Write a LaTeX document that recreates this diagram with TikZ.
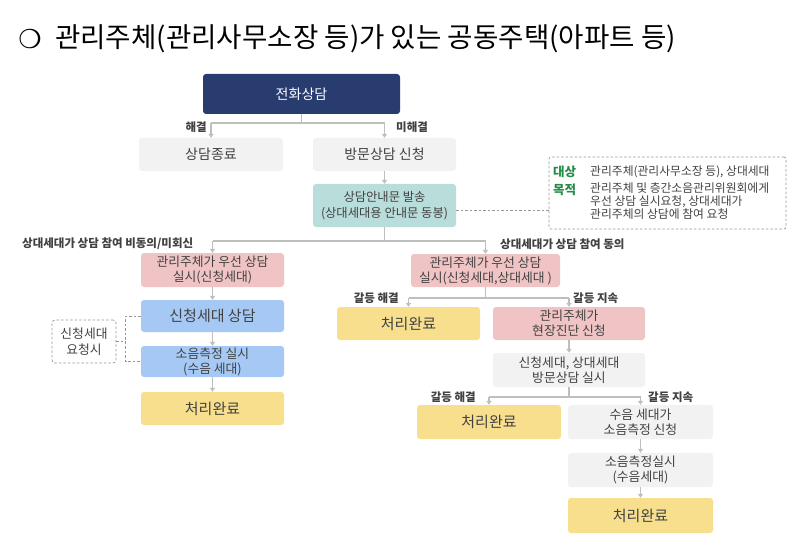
\documentclass[tikz,border=0pt]{standalone}
\usepackage{fontspec}
\setmainfont{Noto Sans CJK KR}
\newfontfamily\dejavu{DejaVu Sans}
\usetikzlibrary{arrows.meta,calc}
\definecolor{navy}{RGB}{41,60,112}
\definecolor{gbox}{RGB}{242,242,242}
\definecolor{teal}{RGB}{185,221,218}
\definecolor{pinkb}{RGB}{240,196,197}
\definecolor{blueb}{RGB}{165,201,244}
\definecolor{yelb}{RGB}{247,223,141}
\definecolor{txt}{RGB}{65,65,65}
\definecolor{lnc}{RGB}{190,190,190}
\definecolor{dsh}{RGB}{150,150,150}
\definecolor{grn}{RGB}{35,140,70}
\begin{document}
\begin{tikzpicture}[x=1pt,y=-1pt,
  box/.style={rounded corners=3pt, align=center, inner sep=0pt, text=txt,
    font=\fontsize{12.8}{15}\selectfont},
  big/.style={font=\fontsize{15}{17}\selectfont},
  mid/.style={font=\fontsize{14}{16}\selectfont},
  lab/.style={inner sep=0pt, text=txt, font=\fontsize{11.5}{13}\selectfont\bfseries},
  line/.style={draw=lnc, line width=1.3pt},
  arr/.style={line, -{Triangle[width=5pt,length=4pt]}},
  dline/.style={draw=dsh, dashed, line width=0.7pt, dash pattern=on 2.5pt off 2pt}]
\useasboundingbox (0,0) rectangle (800,548);
% title
\node[anchor=center, inner sep=0pt, font=\dejavu\fontsize{26}{26}\selectfont] (tcirc) at (30,39) {❍};
\node[anchor=west, inner sep=0pt, font=\fontsize{27.6}{30}\selectfont, text=black] (title) at (55,39) {관리주체(관리사무소장 등)가 있는 공동주택(아파트 등)};
% boxes
\node[box, mid, fill=navy, text=white, minimum width=197pt, minimum height=40pt] (tel) at (301.5,94) {전화상담};
\node[box, mid, fill=gbox, minimum width=144pt, minimum height=33pt] (end1) at (211,154.5) {상담종료};
\node[box, mid, fill=gbox, minimum width=143pt, minimum height=33pt] (visit) at (384.5,154.5) {방문상담 신청};
\node[box, fill=teal, minimum width=143pt, minimum height=43pt, font=\fontsize{12.3}{16}\selectfont] (notice) at (384.5,205.5) {상담안내문 발송\\(상대세대용 안내문 동봉)};
\node[box, fill=pinkb, minimum width=143pt, minimum height=34pt] (L1) at (212.5,270) {관리주체가 우선 상담\\실시(신청세대)};
\node[box, big, fill=blueb, minimum width=143pt, minimum height=32pt] (L2) at (212.5,316) {신청세대 상담};
\node[box, fill=blueb, minimum width=143pt, minimum height=31pt] (L3) at (212.5,361.5) {소음측정 실시\\(수음 세대)};
\node[box, big, fill=yelb, minimum width=143pt, minimum height=33pt] (L4) at (212.5,408.5) {처리완료};
\node[box, draw=dsh, dashed, dash pattern=on 2.5pt off 2pt, line width=0.7pt, minimum width=64pt, minimum height=43pt, font=\fontsize{12.8}{16}\selectfont] (req) at (84,341.5) {신청세대\\요청시};
\node[box, fill=pinkb, minimum width=149pt, minimum height=33pt] (R1) at (485.5,270.5) {관리주체가 우선 상담\\실시(신청세대,상대세대 )};
\node[box, big, fill=yelb, minimum width=143pt, minimum height=33pt] (R2) at (408.5,323.5) {처리완료};
\node[box, fill=pinkb, minimum width=152pt, minimum height=33pt] (R3) at (569,323.5) {관리주체가\\현장진단 신청};
\node[box, fill=gbox, minimum width=152pt, minimum height=34pt] (R4) at (569,370) {신청세대, 상대세대\\방문상담 실시};
\node[box, big, fill=yelb, minimum width=144pt, minimum height=34pt] (R5) at (489,422) {처리완료};
\node[box, fill=gbox, minimum width=145pt, minimum height=34pt] (R6) at (640.5,422) {수음 세대가\\소음측정 신청};
\node[box, fill=gbox, minimum width=145pt, minimum height=34pt] (R7) at (640.5,470) {소음측정실시\\(수음세대)};
\node[box, big, fill=yelb, minimum width=145pt, minimum height=35pt] (R8) at (640.5,515.5) {처리완료};
% note
\node[draw=dsh, dashed, dash pattern=on 2.5pt off 2pt, line width=0.7pt, rounded corners=2pt, minimum width=237pt, minimum height=72pt, inner sep=0pt] (note) at (667.5,193) {};
\node[anchor=west, inner sep=0pt, text=grn, font=\fontsize{12.5}{13}\selectfont\bfseries] (nk1) at (553,172) {대상};
\node[anchor=west, inner sep=0pt, text=txt, font=\fontsize{11.8}{13}\selectfont] (nt1) at (590,172) {관리주체(관리사무소장 등), 상대세대};
\node[anchor=west, inner sep=0pt, text=grn, font=\fontsize{12.5}{13}\selectfont\bfseries] (nk2) at (553,190) {목적};
\node[anchor=north west, inner sep=0pt, align=left, text=txt, font=\fontsize{11.8}{12.8}\selectfont] (nt2) at (590,183) {관리주체 및 층간소음관리위원회에게\\우선 상담 실시요청, 상대세대가\\관리주체의 상담에 참여 요청};
% connectors
\coordinate (b1) at (0,123);
\draw[line] (tel.south) -- (tel.south |- b1);
\draw[line] (end1.north |- b1) -- (visit.north |- b1);
\draw[arr] (end1.north |- b1) -- (end1.north);
\draw[arr] (visit.north |- b1) -- (visit.north);
\draw[arr] (visit.south) -- (notice.north);
\coordinate (b2) at (0,241);
\draw[line] (notice.south) -- (notice.south |- b2);
\draw[line] (L1.north |- b2) -- (R1.north |- b2);
\draw[arr] (L1.north |- b2) -- (L1.north);
\draw[arr] (R1.north |- b2) -- (R1.north);
\draw[arr] (L1.south) -- (L2.north);
\draw[arr] (L2.south) -- (L3.north);
\draw[arr] (L3.south) -- (L4.north);
\coordinate (b3) at (0,298);
\draw[line] (R1.south) -- (R1.south |- b3);
\draw[line] (R2.north |- b3) -- (R3.north |- b3);
\draw[arr] (R2.north |- b3) -- (R2.north);
\draw[arr] (R3.north |- b3) -- (R3.north);
\draw[arr] (R3.south) -- (R4.north);
\coordinate (b4) at (0,397);
\draw[line] (R4.south) -- (R4.south |- b4);
\draw[line] (R5.north |- b4) -- (R6.north |- b4);
\draw[arr] (R5.north |- b4) -- (R5.north);
\draw[arr] (R6.north |- b4) -- (R6.north);
\draw[arr] (R6.south) -- (R7.north);
\draw[arr] (R7.south) -- (R8.north);
% dashed links
\draw[dline] ($(notice.east)+(0,4.5)$) coordinate (dA) -- (note.west |- dA);
\draw[dline] (L2.west) -- ++(-15,0) coordinate (k1) -- (k1 |- L3.west) -- (L3.west);
\draw[dline] (req.east) -- (k1 |- req.east);
% labels
\node[lab, anchor=east] (l1) at (207,127) {해결};
\node[lab, anchor=west] (l2) at (396,127) {미해결};
\node[lab, anchor=west] (l3) at (22,244) {상대세대가 상담 참여 비동의/미회신};
\node[lab, anchor=west] (l4) at (500,244) {상대세대가 상담 참여 동의};
\node[lab, anchor=east] (l5) at (399,298) {갈등 해결};
\node[lab, anchor=west] (l6) at (573,298) {갈등 지속};
\node[lab, anchor=east] (l7) at (476,397) {갈등 해결};
\node[lab, anchor=west] (l8) at (648,397) {갈등 지속};
\end{tikzpicture}
\end{document}
